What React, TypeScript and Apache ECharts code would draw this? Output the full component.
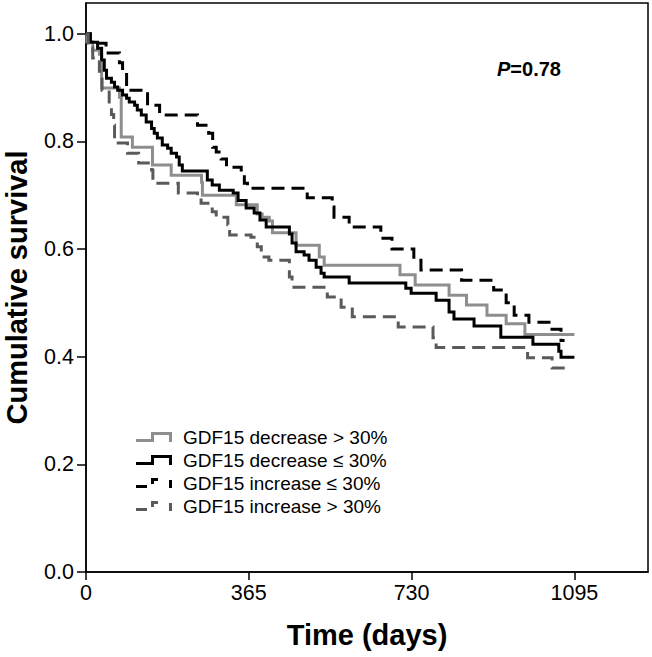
import React, { useEffect, useRef } from "react";
import * as echarts from "echarts";

// ---- Data ----
const seriesNames = [
  "GDF15 decrease > 30%",
  "GDF15 decrease ≤ 30%",
  "GDF15 increase ≤ 30%",
  "GDF15 increase > 30%",
];

// decrease > 30% (light grey, solid)
const decGt30Days = [0, 2, 15, 30, 35, 75, 79, 104, 149, 191, 259, 261, 337, 384, 395, 411, 418, 471, 523, 534, 704, 738, 814, 853, 899, 942, 984, 1095];
const decGt30Surv = [1.0, 0.985, 0.969, 0.962, 0.899, 0.882, 0.808, 0.789, 0.756, 0.737, 0.724, 0.7, 0.682, 0.665, 0.659, 0.652, 0.63, 0.607, 0.585, 0.57, 0.552, 0.533, 0.514, 0.496, 0.477, 0.461, 0.441, 0.441];

// decrease <= 30% (black, solid)
const decLe30Days = [0, 8, 26, 35, 41, 46, 57, 64, 71, 82, 91, 97, 109, 115, 124, 135, 147, 153, 160, 171, 183, 191, 203, 209, 216, 272, 283, 299, 330, 341, 359, 377, 390, 404, 456, 462, 471, 489, 500, 516, 527, 534, 590, 717, 729, 785, 814, 825, 870, 930, 1002, 1060, 1065, 1095];
const decLe30Surv = [1.0, 0.984, 0.973, 0.951, 0.932, 0.917, 0.91, 0.901, 0.895, 0.886, 0.88, 0.873, 0.867, 0.858, 0.849, 0.836, 0.824, 0.815, 0.806, 0.793, 0.787, 0.778, 0.771, 0.756, 0.745, 0.728, 0.719, 0.709, 0.704, 0.69, 0.676, 0.667, 0.654, 0.641, 0.628, 0.611, 0.595, 0.589, 0.579, 0.566, 0.555, 0.548, 0.537, 0.527, 0.518, 0.505, 0.483, 0.47, 0.457, 0.436, 0.423, 0.41, 0.399, 0.399];

// increase <= 30% (black, dashed)
const incLe30Days = [0, 10, 45, 75, 82, 91, 138, 165, 250, 275, 284, 292, 303, 315, 348, 355, 362, 496, 552, 556, 590, 661, 686, 735, 751, 842, 914, 942, 960, 993, 1038, 1065, 1073];
const incLe30Surv = [1.0, 0.982, 0.964, 0.946, 0.927, 0.895, 0.867, 0.849, 0.83, 0.815, 0.789, 0.78, 0.767, 0.752, 0.737, 0.722, 0.713, 0.695, 0.678, 0.659, 0.641, 0.62, 0.6, 0.579, 0.561, 0.542, 0.524, 0.5, 0.477, 0.464, 0.451, 0.43, 0.43];

// increase > 30% (dark grey, dashed)
const incGt30Days = [0, 5, 15, 30, 36, 52, 57, 62, 64, 93, 118, 147, 150, 207, 250, 258, 283, 292, 318, 322, 370, 384, 393, 410, 456, 462, 541, 572, 597, 700, 778, 785, 990, 1045, 1075];
const incGt30Surv = [1.0, 0.975, 0.955, 0.93, 0.895, 0.873, 0.85, 0.83, 0.797, 0.778, 0.76, 0.747, 0.722, 0.704, 0.695, 0.685, 0.669, 0.659, 0.645, 0.626, 0.622, 0.604, 0.585, 0.579, 0.548, 0.529, 0.511, 0.492, 0.474, 0.455, 0.435, 0.417, 0.398, 0.379, 0.379];

const xTickValues = [0, 365, 730, 1095];
const yTickValues = [0, 0.2, 0.4, 0.6, 0.8, 1.0];
const pValueLabel = "P";
const pValueNumber = "=0.78";

const FONT = "'Liberation Sans', Arial, Helvetica, sans-serif";

const solidIcon =
  "path://M0,7 L15,7 L15,0 L36,0 L36,10 L33,10 L33,3 L18,3 L18,10 L0,10 Z";
const dashedIcon =
  "path://M0,7 L11,7 L11,10 L0,10 Z M15,0 L22,0 L22,3 L18,3 L18,6 L15,6 Z M33,2 L36,2 L36,10 L33,10 Z";

function pairs(days: number[], surv: number[]) {
  return days.map((d, i) => [d, surv[i]]);
}

export default function App() {
  const ref = useRef<HTMLDivElement>(null);

  useEffect(() => {
    document.body.style.margin = "0";
    if (!ref.current) return;
    const chart = echarts.init(ref.current, null, { renderer: "svg" });

    const mk = (
      name: string,
      days: number[],
      surv: number[],
      color: string,
      dashed: boolean
    ) => ({
      name,
      type: "line",
      step: "end",
      showSymbol: false,
      symbol: "none",
      data: pairs(days, surv),
      color,
      lineStyle: {
        color,
        width: 3,
        type: dashed ? [13, 7] : "solid",
        cap: "butt",
        join: "miter",
      },
      z: dashed ? 3 : 2,
    });

    chart.setOption({
      animation: false,
      backgroundColor: "#fff",
      grid: {
        left: 86,
        right: 4,
        top: 3,
        bottom: 85,
        show: true,
        borderColor: "#000",
        borderWidth: 1.5,
        backgroundColor: "transparent",
        outerBoundsMode: "none",
        containLabel: false,
      },
      xAxis: {
        type: "value",
        min: 0,
        max: 1260,
        name: "Time (days)",
        nameLocation: "middle",
        nameGap: 48,
        nameTextStyle: {
          fontFamily: FONT,
          fontSize: 29,
          fontWeight: "bold",
          color: "#000",
        },
        axisLine: { show: true, lineStyle: { color: "#000", width: 1.5 } },
        axisTick: {
          show: true,
          length: 8,
          customValues: xTickValues,
          lineStyle: { color: "#000", width: 1.5 },
        },
        axisLabel: {
          customValues: xTickValues,
          margin: 10,
          fontFamily: FONT,
          fontSize: 21.5,
          color: "#000",
          formatter: (v: number) => String(v),
        },
        splitLine: { show: false },
      },
      yAxis: {
        type: "value",
        min: 0,
        max: 1.057,
        name: "Cumulative survival",
        nameLocation: "middle",
        nameGap: 55,
        nameTextStyle: {
          fontFamily: FONT,
          fontSize: 29,
          fontWeight: "bold",
          color: "#000",
        },
        axisLine: { show: true, lineStyle: { color: "#000", width: 1.5 } },
        axisTick: {
          show: true,
          length: 9,
          customValues: yTickValues,
          lineStyle: { color: "#000", width: 1.5 },
        },
        axisLabel: {
          customValues: yTickValues,
          margin: 12,
          fontFamily: FONT,
          fontSize: 21.5,
          color: "#000",
          formatter: (v: number) => v.toFixed(1),
        },
        splitLine: { show: false },
      },
      legend: {
        orient: "vertical",
        left: 136,
        top: 427,
        padding: 0,
        itemWidth: 36,
        itemHeight: 10,
        itemGap: 3,
        selectedMode: false,
        itemStyle: { borderWidth: 0 },
        textStyle: {
          fontFamily: FONT,
          fontSize: 19,
          color: "#000",
          lineHeight: 20,
          padding: [0, 0, 0, 6],
        },
        data: [
          { name: seriesNames[0], icon: solidIcon },
          { name: seriesNames[1], icon: solidIcon },
          { name: seriesNames[2], icon: dashedIcon },
          { name: seriesNames[3], icon: dashedIcon },
        ],
      },
      graphic: [
        {
          type: "text",
          left: 497,
          top: 59,
          style: {
            text: `{i|${pValueLabel}}{b|${pValueNumber}}`,
            rich: {
              i: {
                fontFamily: FONT,
                fontSize: 20,
                fontWeight: "bold",
                fontStyle: "italic",
                fill: "#000",
                color: "#000",
              },
              b: {
                fontFamily: FONT,
                fontSize: 20,
                fontWeight: "bold",
                fill: "#000",
                color: "#000",
              },
            },
          },
        },
      ],
      series: [
        mk(seriesNames[0], decGt30Days, decGt30Surv, "#8e8e8e", false),
        mk(seriesNames[1], decLe30Days, decLe30Surv, "#000000", false),
        mk(seriesNames[2], incLe30Days, incLe30Surv, "#000000", true),
        mk(seriesNames[3], incGt30Days, incGt30Surv, "#5a5a5a", true),
      ],
    });

    return () => {
      chart.dispose();
    };
  }, []);

  return <div ref={ref} style={{ width: 652, height: 657 }} />;
}
